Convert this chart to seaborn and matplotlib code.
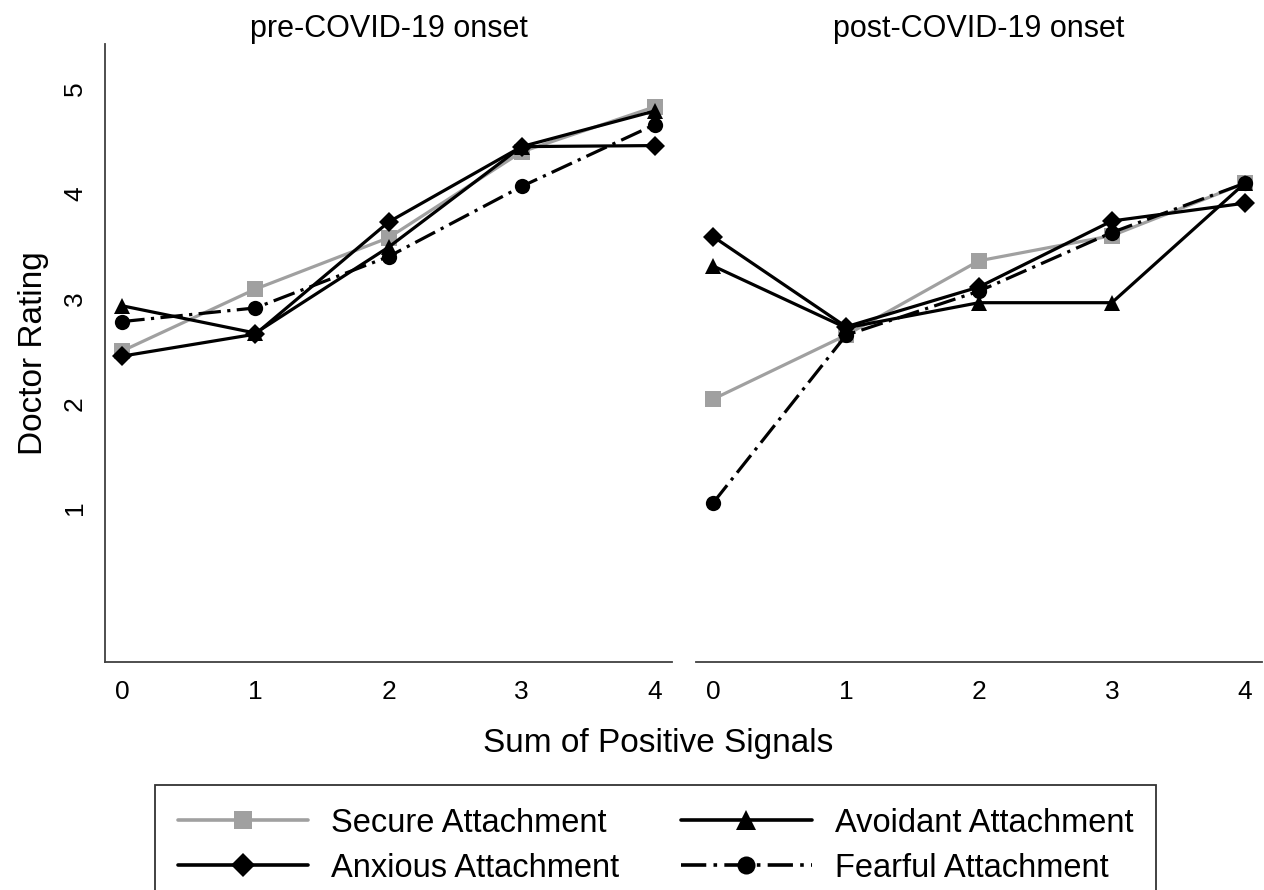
import numpy as np
import matplotlib
matplotlib.use("Agg")
import matplotlib.pyplot as plt
import pandas as pd
import seaborn as sns

# Data
signals = [0, 1, 2, 3, 4]
groups = ["Secure Attachment", "Avoidant Attachment", "Anxious Attachment", "Fearful Attachment"]

pre_secure = [2.50, 3.09, 3.58, 4.40, 4.83]
pre_avoidant = [2.93, 2.67, 3.49, 4.45, 4.79]
pre_anxious = [2.45, 2.66, 3.73, 4.45, 4.46]
pre_fearful = [2.78, 2.91, 3.40, 4.07, 4.66]

post_secure = [2.04, 2.65, 3.36, 3.60, 4.10]
post_avoidant = [3.31, 2.72, 2.96, 2.96, 4.10]
post_anxious = [3.59, 2.73, 3.11, 3.74, 3.91]
post_fearful = [1.05, 2.65, 3.07, 3.63, 4.10]

titles = ["pre-COVID-19 onset", "post-COVID-19 onset"]


def long_table(series):
    rows = []
    for g, vals in zip(groups, series):
        for s, v in zip(signals, vals):
            rows.append({"signals": s, "rating": v, "group": g})
    return pd.DataFrame(rows)


pre_df = long_table([pre_secure, pre_avoidant, pre_anxious, pre_fearful])
post_df = long_table([post_secure, post_avoidant, post_anxious, post_fearful])

sns.set_style("white")
plt.rcParams["font.family"] = ["Liberation Sans", "DejaVu Sans"]
plt.rcParams["text.color"] = "black"
plt.rcParams["axes.labelcolor"] = "black"
plt.rcParams["xtick.color"] = "black"
plt.rcParams["ytick.color"] = "black"

palette = {"Secure Attachment": "#a0a0a0", "Avoidant Attachment": "black",
           "Anxious Attachment": "black", "Fearful Attachment": "black"}
markers = {"Secure Attachment": "s", "Avoidant Attachment": "^",
           "Anxious Attachment": "D", "Fearful Attachment": "o"}
dashes = {"Secure Attachment": "", "Avoidant Attachment": "",
          "Anxious Attachment": "", "Fearful Attachment": (7, 2, 1, 2)}
msize = {"Secure Attachment": 11, "Avoidant Attachment": 12,
         "Anxious Attachment": 10, "Fearful Attachment": 11}

fig = plt.figure(figsize=(12.64, 8.9), dpi=100)
ax1 = fig.add_axes([0.0831, 0.2562, 0.4486, 0.6944])
ax2 = fig.add_axes([0.5506, 0.2562, 0.4478, 0.6944])

for ax, df, title in [(ax1, pre_df, titles[0]), (ax2, post_df, titles[1])]:
    sns.lineplot(data=df, x="signals", y="rating", hue="group", style="group",
                 hue_order=groups, style_order=groups, palette=palette,
                 markers=markers, dashes=dashes, linewidth=2.3,
                 markeredgewidth=0, ax=ax, legend=False)
    for line, g in zip(ax.get_lines(), groups):
        line.set_markersize(msize[g])
    ax.set_xlim(-0.13, 4.13)
    ax.set_ylim(-0.47, 5.43)
    ax.set_xticks(signals)
    ax.set_xticklabels([str(s) for s in signals], fontsize=19)
    ax.set_xlabel("")
    ax.set_ylabel("")
    ax.set_title(title, fontsize=22, pad=5)
    ax.tick_params(axis="x", direction="out", length=7, width=1.2, color="#404040", pad=6)
    for side in ["top", "right"]:
        ax.spines[side].set_visible(False)
    ax.spines["bottom"].set_color("#404040")
    ax.spines["bottom"].set_linewidth(1.3)

ax1.set_yticks([1, 2, 3, 4, 5])
ax1.set_yticklabels(["1", "2", "3", "4", "5"], fontsize=19, rotation=90, va="center")
ax1.tick_params(axis="y", direction="out", length=7, width=1.2, color="#404040", pad=6)
ax1.spines["left"].set_color("#404040")
ax1.spines["left"].set_linewidth(1.3)
ax1.set_ylabel("Doctor Rating", fontsize=24, labelpad=10)

ax2.spines["left"].set_visible(False)
ax2.set_yticks([])

fig.text(0.521, 0.165, "Sum of Positive Signals", fontsize=24, ha="center", va="center")

# legend handles in the reference order
handles = []
for g in groups:
    h = plt.Line2D([], [], color=palette[g], marker=markers[g], markersize=msize[g] + 2,
                   markeredgewidth=0, linewidth=2.6,
                   linestyle=(0, dashes[g]) if dashes[g] else "-")
    handles.append(h)
order = [0, 2, 1, 3]
leg = fig.legend([handles[i] for i in order], [groups[i] for i in order],
                 loc="upper center", bbox_to_anchor=(0.5185, 0.118), ncol=2,
                 fontsize=23.5, frameon=True, fancybox=False, handlelength=4.0,
                 handletextpad=0.7, columnspacing=1.9, labelspacing=0.42,
                 borderpad=0.7, borderaxespad=0)
leg.get_frame().set_edgecolor("black")
leg.get_frame().set_linewidth(1.3)

fig.savefig("out.png", dpi=100)
